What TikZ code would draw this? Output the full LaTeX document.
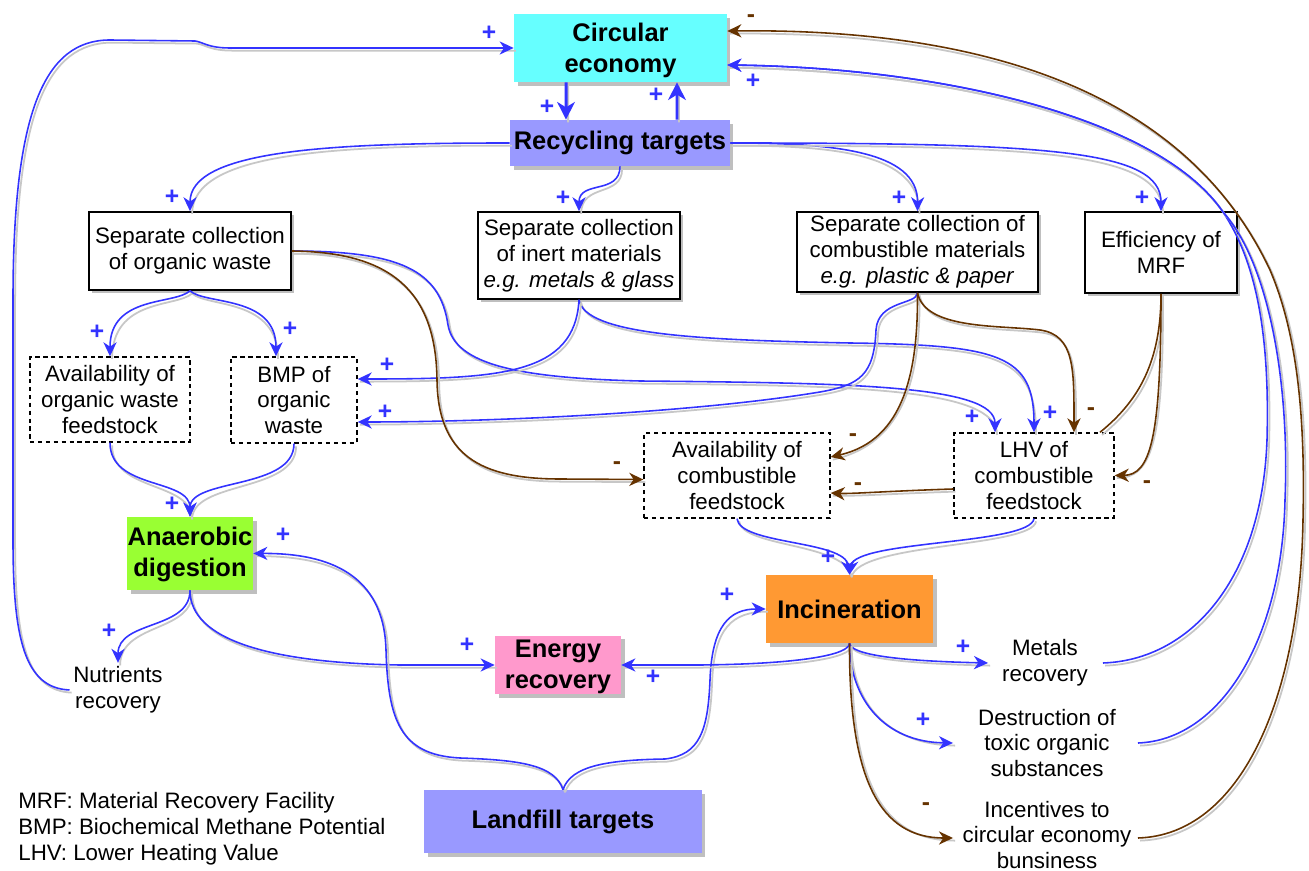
\documentclass[tikz,border=0pt]{standalone}
\usepackage{fontspec}
\setmainfont{Liberation Sans}
\usetikzlibrary{arrows.meta,shadows,calc}
\definecolor{cblue}{RGB}{51,51,255}
\definecolor{cbrown}{RGB}{102,51,0}
\definecolor{cecol}{RGB}{102,255,255}
\definecolor{lav}{RGB}{153,153,255}
\definecolor{adg}{RGB}{153,255,51}
\definecolor{incor}{RGB}{255,153,51}
\definecolor{erp}{RGB}{255,153,204}
\newcommand\fR{\fontsize{12.7}{14.7}\selectfont}
\newcommand\fB{\fontsize{14.5}{17.6}\selectfont\bfseries}
\begin{document}
\begin{tikzpicture}[x=0.02cm,y=-0.02cm,
 >={Stealth[length=8pt,width=7.5pt,inset=2.5pt]},
 sh/.style={preaction={draw=black!22,arrows=-,line width=1pt,transform canvas={shift={(1.2pt,-1.5pt)}}}},
 blu/.style={draw=cblue,line width=0.9pt,->,sh},
 brn/.style={draw=cbrown,line width=0.9pt,->,sh},
 sbox/.style={draw=black,line width=0.9pt,fill=white,align=center,font=\fR,inner sep=1pt,
   drop shadow={shadow xshift=1.6pt,shadow yshift=-1.6pt,fill=black!25,opacity=1}},
 dbox/.style={draw=black,line width=0.8pt,dash pattern=on 2.5pt off 2pt,fill=white,align=center,font=\fR,inner sep=1pt},
 hbox/.style={align=center,font=\fB,inner sep=0pt,
   drop shadow={shadow xshift=2pt,shadow yshift=-2pt,fill=black!25,opacity=1}},
 txt/.style={align=center,font=\fR,inner sep=2pt},
 plus/.style={text=cblue,font=\fontsize{14}{14}\selectfont\bfseries,inner sep=0pt},
 minus/.style={text=cbrown,font=\fontsize{14}{14}\selectfont\bfseries,inner sep=0pt}]
\useasboundingbox (0,0) rectangle (1309,871);
\fill[white] (0,0) rectangle (1309,871);

% nodes
\node[hbox,fill=cecol,minimum width=4.26cm,minimum height=1.36cm] (CE) at (620.5,48) {\rule{0pt}{13pt}Circular\\economy};
\node[hbox,fill=lav,minimum width=4.4cm,minimum height=0.92cm] (RT) at (620,143) {Recycling targets};
\node[sbox,minimum width=4.04cm,minimum height=1.56cm] (SCO) at (190,251) {Separate collection\\of organic waste};
\node[sbox,minimum width=4.04cm,minimum height=1.74cm] (SCI) at (579,255.5) {Separate collection\\of inert materials\\\textit{e.g. metals \& glass}};
\node[sbox,minimum width=4.82cm,minimum height=1.6cm] (SCC) at (917.5,252) {Separate collection of\\combustible materials\\\textit{e.g. plastic \& paper}};
\node[sbox,minimum width=3.04cm,minimum height=1.62cm] (MRF) at (1161,252.5) {Efficiency of\\MRF};
\node[dbox,minimum width=3.2cm,minimum height=1.7cm] (AOW) at (110,399.5) {Availability of\\organic waste\\feedstock};
\node[dbox,minimum width=2.52cm,minimum height=1.72cm] (BMP) at (294,400) {BMP of\\organic\\waste};
\node[dbox,minimum width=3.72cm,minimum height=1.7cm] (ACF) at (737,475.5) {Availability of\\combustible\\feedstock};
\node[dbox,minimum width=3.2cm,minimum height=1.7cm] (LHV) at (1034,475.5) {LHV of\\combustible\\feedstock};
\node[hbox,fill=adg,minimum width=2.52cm,minimum height=1.46cm] (AD) at (190,553.5) {\rule{0pt}{12pt}Anaerobic\\digestion};
\node[hbox,fill=incor,minimum width=3.34cm,minimum height=1.36cm] (INC) at (849.5,609) {Incineration};
\node[hbox,fill=erp,minimum width=2.52cm,minimum height=1.12cm] (ER) at (558,665) {\rule{0pt}{12.5pt}Energy\\recovery};
\node[hbox,fill=lav,minimum width=5.56cm,minimum height=1.26cm] (LT) at (563,821.5) {Landfill targets};
\node[txt] (NR) at (118,690) {Nutrients\\recovery};
\node[txt] (MR) at (1045,663) {Metals\\recovery};
\node[txt] (DT) at (1047,743) {Destruction of\\toxic organic\\substances};
\node[txt] (IC) at (1047,835) {Incentives to\\circular economy\\bunsiness};
\node[anchor=west,align=left,font=\fR,inner sep=0pt] (LEG) at (18,829) {MRF: Material Recovery Facility\\BMP: Biochemical Methane Potential\\LHV: Lower Heating Value};

% connectors
\draw[blu] (NR.west) .. controls (25,688) and (13,640) .. (13,540) -- (13,300) .. controls (13,110) and (45,40) .. (110,40) -- (195,41) .. controls (203,42) and (208,48) .. (230,48) -- (CE.west);
\draw[blu,line width=1.7pt,-{Stealth[length=10pt,width=10pt,inset=3pt]}] ([xshift=-1.09cm]CE.south) -- ([xshift=-1.08cm]RT.north);
\draw[blu,line width=1.7pt,-{Stealth[length=10pt,width=10pt,inset=3pt]}] ([xshift=1.14cm]RT.north) -- ([xshift=1.13cm]CE.south);
\draw[blu] (RT.west) .. controls (330,143) and (190,150) .. (SCO.north);
\draw[blu] (RT.south) .. controls (620,195) and (579,180) .. (SCI.north);
\draw[blu] (RT.east) .. controls (830,143) and (918,150) .. (SCC.north);
\draw[blu] (RT.east) .. controls (1050,143) and (1161,150) .. (MRF.north);
\draw[blu] (SCO.south) .. controls (175,305) and (110,295) .. (AOW.north);
\draw[blu] (SCO.south) .. controls (205,305) and (276,295) .. ([xshift=-0.36cm]BMP.north);
\draw[blu] (SCO.east) .. controls (400,251) and (440,270) .. (448,325) .. controls (455,365) and (520,378) .. (640,381) .. controls (850,383) and (995,385) .. ([xshift=-0.78cm]LHV.north);
\draw[blu] (SCI.south) .. controls (585,335) and (700,340) .. (850,343) .. controls (1000,345) and (1034,355) .. (LHV.north);
\draw[blu] (SCI.south) .. controls (575,375) and (500,379) .. ([yshift=0.42cm]BMP.east);
\draw[blu] (SCC.south) .. controls (917,305) and (878,300) .. (876,330) .. controls (874,375) and (860,385) .. (820,392) .. controls (700,412) and (500,422) .. ([yshift=-0.44cm]BMP.east);
\draw[brn] (SCO.east) .. controls (390,252) and (436,290) .. (437,380) .. controls (438,455) and (480,479) .. (560,479) -- ([yshift=-0.08cm]ACF.west);
\draw[brn] (SCC.south) .. controls (918,370) and (905,440) .. ([yshift=0.37cm]ACF.east);
\draw[brn] ([yshift=-0.27cm]LHV.west) .. controls (890,491) and (850,494) .. ([yshift=-0.35cm]ACF.east);
\draw[brn] (SCC.south) .. controls (925,330) and (1000,325) .. (1040,330) .. controls (1075,335) and (1074,370) .. ([xshift=0.8cm]LHV.north);
\draw[brn,-] (MRF.south) .. controls (1161,360) and (1140,400) .. ([xshift=1.32cm]LHV.north);
\draw[brn] (MRF.south) .. controls (1161,440) and (1150,475) .. (LHV.east);
\draw[blu] (AOW.south) .. controls (110,490) and (190,478) .. (AD.north);
\draw[blu] (BMP.south) .. controls (294,490) and (190,478) .. (AD.north);
\draw[blu] (AD.south) .. controls (190,630) and (118,620) .. (NR.north);
\draw[blu] (AD.south) .. controls (190,640) and (270,663) .. (400,665) -- (ER.west);
\draw[blu] (LT.north) .. controls (555,765) and (520,760) .. (460,758) .. controls (400,755) and (388,720) .. (386,650) .. controls (384,575) and (330,553) .. (AD.east);
\draw[blu] (LT.north) .. controls (571,765) and (610,760) .. (665,759) .. controls (700,755) and (708,730) .. (710,680) .. controls (712,625) and (730,609) .. (INC.west);
\draw[blu] (INC.south) .. controls (849,655) and (800,664) .. (700,665) -- (ER.east);
\draw[blu] (INC.south) .. controls (851,655) and (900,661) .. ([xshift=-1.14cm]MR.center);
\draw[blu] (INC.south) .. controls (850,700) and (885,742) .. ([xshift=-1.88cm]DT.center);
\draw[brn] (INC.south) .. controls (849,780) and (880,838) .. ([xshift=-1.88cm,yshift=-0.06cm]IC.center);
\draw[blu] ([xshift=1.16cm]MR.center) .. controls (1190,660) and (1262,580) .. (1267,440) .. controls (1270,330) and (1255,260) .. (1223,212) .. controls (1160,120) and (950,68) .. ([yshift=-0.34cm]CE.east);
\draw[blu] ([xshift=1.82cm]DT.center) .. controls (1220,740) and (1282,640) .. (1285,500) .. controls (1290,380) and (1268,262) .. (1223,212) .. controls (1160,120) and (950,68) .. ([yshift=-0.34cm]CE.east);
\draw[brn] ([xshift=1.82cm,yshift=-0.06cm]IC.center) .. controls (1240,835) and (1300,700) .. (1303,520) .. controls (1305,430) and (1300,340) .. (1270,270) .. controls (1190,100) and (1000,28) .. ([yshift=0.34cm]CE.east);
\draw[blu] (ACF.south) .. controls (740,545) and (845,540) .. (INC.north);
\draw[blu] (LHV.south) .. controls (1030,545) and (855,540) .. (INC.north);

% signs
\foreach \i/\p in {1/{(489,33)},2/{(547,107)},3/{(656,95)},4/{(753,81)},5/{(172,197)},6/{(563,198)},7/{(899,198)},8/{(1142,198)},9/{(97,332)},10/{(290,329)},11/{(387,365)},12/{(385,412)},13/{(172,504)},14/{(283,535)},15/{(972,417)},16/{(1050,413)},17/{(828,557)},18/{(727,595)},19/{(467,645)},20/{(653,677)},21/{(109,631)},22/{(963,647)},23/{(923,720)}}
  \node[plus] (p\i) at \p {+};
\foreach \i/\p in {1/{(751,19)},2/{(617,466)},3/{(853,438)},4/{(858,487)},5/{(1091,412)},6/{(1147,485)},7/{(926,807)}}
  \node[minus] (m\i) at \p {-};
\end{tikzpicture}
\end{document}
